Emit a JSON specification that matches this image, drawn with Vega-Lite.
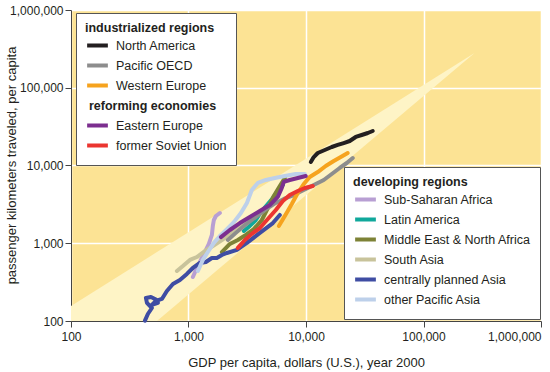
{
  "$schema": "https://vega.github.io/schema/vega-lite/v6.json",
  "width": 470,
  "height": 311,
  "autosize": {"type": "none"},
  "padding": {"left": 71, "top": 10, "right": 9, "bottom": 51},
  "config": {
    "view": {"fill": "#FCE394", "stroke": null},
    "font": "Liberation Sans",
    "axis": {
      "grid": true,
      "gridColor": "#ffffff",
      "gridWidth": 1.5,
      "gridOpacity": 1,
      "domainColor": "#444444",
      "domainWidth": 1,
      "tickColor": "#444444",
      "tickSize": 6,
      "labelFontSize": 12,
      "labelColor": "#231f20",
      "labelFont": "Liberation Sans",
      "titleFont": "Liberation Sans",
      "titleFontSize": 13,
      "titleFontWeight": "normal",
      "titleColor": "#231f20"
    },
    "legend": {
      "titleFont": "Liberation Sans",
      "titleFontSize": 12.5,
      "titleFontWeight": "bold",
      "titleColor": "#231f20",
      "labelFont": "Liberation Sans",
      "labelFontSize": 12.5,
      "labelColor": "#231f20",
      "fillColor": "#ffffff",
      "strokeColor": "#555555",
      "padding": 9,
      "symbolType": "stroke",
      "symbolSize": 430,
      "symbolStrokeWidth": 4,
      "labelOffset": 6,
      "rowPadding": 0,
      "clipHeight": 20,
      "titlePadding": 1,
      "orient": "none"
    }
  },
  "datasets": {
    "cone": [
      {"gdp": 100, "pkt": 156, "pkt2": 100},
      {"gdp": 539, "pkt": 770, "pkt2": 100},
      {"gdp": 272000, "pkt": 280000, "pkt2": 280000}
    ],
    "ind": [
      {"region": "North America", "i": 1, "gdp": 10990, "pkt": 11090},
      {"region": "North America", "i": 2, "gdp": 11640, "pkt": 12850},
      {"region": "North America", "i": 3, "gdp": 12590, "pkt": 14490},
      {"region": "North America", "i": 4, "gdp": 14450, "pkt": 15820},
      {"region": "North America", "i": 5, "gdp": 16560, "pkt": 17300},
      {"region": "North America", "i": 6, "gdp": 18620, "pkt": 18370},
      {"region": "North America", "i": 7, "gdp": 20940, "pkt": 19450},
      {"region": "North America", "i": 8, "gdp": 23550, "pkt": 20650},
      {"region": "North America", "i": 9, "gdp": 26490, "pkt": 23280},
      {"region": "North America", "i": 10, "gdp": 29790, "pkt": 24660},
      {"region": "North America", "i": 11, "gdp": 33570, "pkt": 26180},
      {"region": "North America", "i": 12, "gdp": 36980, "pkt": 27790},
      {"region": "Pacific OECD", "i": 1, "gdp": 2163, "pkt": 1100},
      {"region": "Pacific OECD", "i": 2, "gdp": 2529, "pkt": 1360},
      {"region": "Pacific OECD", "i": 3, "gdp": 2958, "pkt": 1670},
      {"region": "Pacific OECD", "i": 4, "gdp": 3459, "pkt": 1990},
      {"region": "Pacific OECD", "i": 5, "gdp": 4046, "pkt": 2380},
      {"region": "Pacific OECD", "i": 6, "gdp": 4732, "pkt": 2840},
      {"region": "Pacific OECD", "i": 7, "gdp": 5534, "pkt": 3300},
      {"region": "Pacific OECD", "i": 8, "gdp": 6471, "pkt": 3710},
      {"region": "Pacific OECD", "i": 9, "gdp": 7568, "pkt": 4060},
      {"region": "Pacific OECD", "i": 10, "gdp": 8851, "pkt": 4560},
      {"region": "Pacific OECD", "i": 11, "gdp": 10350, "pkt": 5140},
      {"region": "Pacific OECD", "i": 12, "gdp": 12110, "pkt": 5780},
      {"region": "Pacific OECD", "i": 13, "gdp": 14160, "pkt": 6510},
      {"region": "Pacific OECD", "i": 14, "gdp": 16560, "pkt": 7780},
      {"region": "Pacific OECD", "i": 15, "gdp": 19360, "pkt": 9290},
      {"region": "Pacific OECD", "i": 16, "gdp": 22230, "pkt": 10770},
      {"region": "Pacific OECD", "i": 17, "gdp": 25000, "pkt": 12480},
      {"region": "Western Europe", "i": 1, "gdp": 5875, "pkt": 1670},
      {"region": "Western Europe", "i": 2, "gdp": 6607, "pkt": 2240},
      {"region": "Western Europe", "i": 3, "gdp": 7568, "pkt": 3200},
      {"region": "Western Europe", "i": 4, "gdp": 8511, "pkt": 4430},
      {"region": "Western Europe", "i": 5, "gdp": 9572, "pkt": 5780},
      {"region": "Western Europe", "i": 6, "gdp": 10760, "pkt": 7110},
      {"region": "Western Europe", "i": 7, "gdp": 12590, "pkt": 8240},
      {"region": "Western Europe", "i": 8, "gdp": 14720, "pkt": 9860},
      {"region": "Western Europe", "i": 9, "gdp": 17220, "pkt": 11430},
      {"region": "Western Europe", "i": 10, "gdp": 19770, "pkt": 12850},
      {"region": "Western Europe", "i": 11, "gdp": 22650, "pkt": 14490},
      {"region": "Eastern Europe", "i": 1, "gdp": 1888, "pkt": 1200},
      {"region": "Eastern Europe", "i": 2, "gdp": 2249, "pkt": 1480},
      {"region": "Eastern Europe", "i": 3, "gdp": 2735, "pkt": 1820},
      {"region": "Eastern Europe", "i": 4, "gdp": 3327, "pkt": 2180},
      {"region": "Eastern Europe", "i": 5, "gdp": 4046, "pkt": 2600},
      {"region": "Eastern Europe", "i": 6, "gdp": 4920, "pkt": 3100},
      {"region": "Eastern Europe", "i": 7, "gdp": 5754, "pkt": 3940},
      {"region": "Eastern Europe", "i": 8, "gdp": 6223, "pkt": 5140},
      {"region": "Eastern Europe", "i": 9, "gdp": 6471, "pkt": 6140},
      {"region": "Eastern Europe", "i": 10, "gdp": 7278, "pkt": 6510},
      {"region": "Eastern Europe", "i": 11, "gdp": 8511, "pkt": 6900},
      {"region": "Eastern Europe", "i": 12, "gdp": 9954, "pkt": 7330},
      {"region": "former Soviet Union", "i": 1, "gdp": 2630, "pkt": 870},
      {"region": "former Soviet Union", "i": 2, "gdp": 3020, "pkt": 1100},
      {"region": "former Soviet Union", "i": 3, "gdp": 3459, "pkt": 1320},
      {"region": "former Soviet Union", "i": 4, "gdp": 4046, "pkt": 1570},
      {"region": "former Soviet Union", "i": 5, "gdp": 4732, "pkt": 2050},
      {"region": "former Soviet Union", "i": 6, "gdp": 5534, "pkt": 2680},
      {"region": "former Soviet Union", "i": 7, "gdp": 6353, "pkt": 3490},
      {"region": "former Soviet Union", "i": 8, "gdp": 7278, "pkt": 4180},
      {"region": "former Soviet Union", "i": 9, "gdp": 8511, "pkt": 4700},
      {"region": "former Soviet Union", "i": 10, "gdp": 9772, "pkt": 5140},
      {"region": "former Soviet Union", "i": 11, "gdp": 11430, "pkt": 5450}
    ],
    "dev": [
      {"region": "Sub-Saharan Africa", "i": 1, "gdp": 1089, "pkt": 368},
      {"region": "Sub-Saharan Africa", "i": 2, "gdp": 1178, "pkt": 481},
      {"region": "Sub-Saharan Africa", "i": 3, "gdp": 1274, "pkt": 610},
      {"region": "Sub-Saharan Africa", "i": 4, "gdp": 1378, "pkt": 771},
      {"region": "Sub-Saharan Africa", "i": 5, "gdp": 1490, "pkt": 980},
      {"region": "Sub-Saharan Africa", "i": 6, "gdp": 1581, "pkt": 1280},
      {"region": "Sub-Saharan Africa", "i": 7, "gdp": 1611, "pkt": 1670},
      {"region": "Sub-Saharan Africa", "i": 8, "gdp": 1644, "pkt": 1990},
      {"region": "Sub-Saharan Africa", "i": 9, "gdp": 1710, "pkt": 2240},
      {"region": "Sub-Saharan Africa", "i": 10, "gdp": 1849, "pkt": 2450},
      {"region": "Latin America", "i": 1, "gdp": 2958, "pkt": 1440},
      {"region": "Latin America", "i": 2, "gdp": 3327, "pkt": 1670},
      {"region": "Latin America", "i": 3, "gdp": 3741, "pkt": 1990},
      {"region": "Latin America", "i": 4, "gdp": 4207, "pkt": 2600},
      {"region": "Latin America", "i": 5, "gdp": 4732, "pkt": 3200},
      {"region": "Latin America", "i": 6, "gdp": 5224, "pkt": 3820},
      {"region": "Latin America", "i": 7, "gdp": 5754, "pkt": 4700},
      {"region": "Latin America", "i": 8, "gdp": 6353, "pkt": 5610},
      {"region": "Middle East & North Africa", "i": 1, "gdp": 1923, "pkt": 771},
      {"region": "Middle East & North Africa", "i": 2, "gdp": 2249, "pkt": 980},
      {"region": "Middle East & North Africa", "i": 3, "gdp": 2630, "pkt": 1100},
      {"region": "Middle East & North Africa", "i": 4, "gdp": 3076, "pkt": 1280},
      {"region": "Middle East & North Africa", "i": 5, "gdp": 3597, "pkt": 1520},
      {"region": "Middle East & North Africa", "i": 6, "gdp": 4207, "pkt": 1990},
      {"region": "Middle East & North Africa", "i": 7, "gdp": 4732, "pkt": 2840},
      {"region": "Middle East & North Africa", "i": 8, "gdp": 5321, "pkt": 4060},
      {"region": "Middle East & North Africa", "i": 9, "gdp": 5984, "pkt": 5450},
      {"region": "Middle East & North Africa", "i": 10, "gdp": 6607, "pkt": 6900},
      {"region": "South Asia", "i": 1, "gdp": 797, "pkt": 440},
      {"region": "South Asia", "i": 2, "gdp": 896, "pkt": 509},
      {"region": "South Asia", "i": 3, "gdp": 1028, "pkt": 610},
      {"region": "South Asia", "i": 4, "gdp": 1178, "pkt": 665},
      {"region": "South Asia", "i": 5, "gdp": 1378, "pkt": 794},
      {"region": "South Asia", "i": 6, "gdp": 1611, "pkt": 920},
      {"region": "South Asia", "i": 7, "gdp": 1923, "pkt": 1100},
      {"region": "South Asia", "i": 8, "gdp": 2339, "pkt": 1360},
      {"region": "South Asia", "i": 9, "gdp": 2844, "pkt": 1720},
      {"region": "South Asia", "i": 10, "gdp": 3459, "pkt": 2110},
      {"region": "South Asia", "i": 11, "gdp": 4207, "pkt": 2520},
      {"region": "South Asia", "i": 12, "gdp": 4920, "pkt": 3100},
      {"region": "centrally planned Asia", "i": 1, "gdp": 426, "pkt": 101},
      {"region": "centrally planned Asia", "i": 2, "gdp": 451, "pkt": 123},
      {"region": "centrally planned Asia", "i": 3, "gdp": 488, "pkt": 147},
      {"region": "centrally planned Asia", "i": 4, "gdp": 443, "pkt": 171},
      {"region": "centrally planned Asia", "i": 5, "gdp": 434, "pkt": 198},
      {"region": "centrally planned Asia", "i": 6, "gdp": 479, "pkt": 204},
      {"region": "centrally planned Asia", "i": 7, "gdp": 539, "pkt": 186},
      {"region": "centrally planned Asia", "i": 8, "gdp": 549, "pkt": 171},
      {"region": "centrally planned Asia", "i": 9, "gdp": 488, "pkt": 161},
      {"region": "centrally planned Asia", "i": 10, "gdp": 528, "pkt": 181},
      {"region": "centrally planned Asia", "i": 11, "gdp": 594, "pkt": 192},
      {"region": "centrally planned Asia", "i": 12, "gdp": 655, "pkt": 243},
      {"region": "centrally planned Asia", "i": 13, "gdp": 737, "pkt": 299},
      {"region": "centrally planned Asia", "i": 14, "gdp": 845, "pkt": 337},
      {"region": "centrally planned Asia", "i": 15, "gdp": 969, "pkt": 403},
      {"region": "centrally planned Asia", "i": 16, "gdp": 1089, "pkt": 481},
      {"region": "centrally planned Asia", "i": 17, "gdp": 1250, "pkt": 557},
      {"region": "centrally planned Asia", "i": 18, "gdp": 1406, "pkt": 574},
      {"region": "centrally planned Asia", "i": 19, "gdp": 1581, "pkt": 646},
      {"region": "centrally planned Asia", "i": 20, "gdp": 1742, "pkt": 646},
      {"region": "centrally planned Asia", "i": 21, "gdp": 1923, "pkt": 706},
      {"region": "centrally planned Asia", "i": 22, "gdp": 2123, "pkt": 750},
      {"region": "centrally planned Asia", "i": 23, "gdp": 2582, "pkt": 820},
      {"region": "centrally planned Asia", "i": 24, "gdp": 3141, "pkt": 1010},
      {"region": "centrally planned Asia", "i": 25, "gdp": 4046, "pkt": 1360},
      {"region": "centrally planned Asia", "i": 26, "gdp": 5224, "pkt": 1820},
      {"region": "centrally planned Asia", "i": 27, "gdp": 5984, "pkt": 2310},
      {"region": "other Pacific Asia", "i": 1, "gdp": 1202, "pkt": 440},
      {"region": "other Pacific Asia", "i": 2, "gdp": 1325, "pkt": 610},
      {"region": "other Pacific Asia", "i": 3, "gdp": 1462, "pkt": 771},
      {"region": "other Pacific Asia", "i": 4, "gdp": 1644, "pkt": 1010},
      {"region": "other Pacific Asia", "i": 5, "gdp": 1849, "pkt": 1240},
      {"region": "other Pacific Asia", "i": 6, "gdp": 2123, "pkt": 1520},
      {"region": "other Pacific Asia", "i": 7, "gdp": 2432, "pkt": 1870},
      {"region": "other Pacific Asia", "i": 8, "gdp": 2793, "pkt": 2450},
      {"region": "other Pacific Asia", "i": 9, "gdp": 3141, "pkt": 3300},
      {"region": "other Pacific Asia", "i": 10, "gdp": 3459, "pkt": 4840},
      {"region": "other Pacific Asia", "i": 11, "gdp": 3890, "pkt": 5960},
      {"region": "other Pacific Asia", "i": 12, "gdp": 4550, "pkt": 6510},
      {"region": "other Pacific Asia", "i": 13, "gdp": 5433, "pkt": 6900},
      {"region": "other Pacific Asia", "i": 14, "gdp": 6607, "pkt": 7330},
      {"region": "other Pacific Asia", "i": 15, "gdp": 8185, "pkt": 7780},
      {"region": "other Pacific Asia", "i": 16, "gdp": 9772, "pkt": 7780}
    ]
  },
  "encoding": {
    "x": {
      "field": "gdp",
      "type": "quantitative",
      "scale": {"type": "log", "domain": [100, 1000000], "nice": false},
      "axis": {
        "values": [100, 1000, 10000, 100000, 1000000],
        "format": ",.0f",
        "title": "GDP per capita, dollars (U.S.), year 2000",
        "labelPadding": 4,
        "labelAlign": {"condition": {"test": "datum.value >= 1000000", "value": "right"}, "value": "center"},
        "titleY": 35,
        "titleBaseline": "top"
      }
    },
    "y": {
      "field": "pkt",
      "type": "quantitative",
      "scale": {"type": "log", "domain": [100, 1000000], "nice": false},
      "axis": {
        "values": [100, 1000, 10000, 100000, 1000000],
        "format": ",.0f",
        "title": "passenger kilometers traveled, per capita",
        "labelPadding": 2,
        "titleX": -60,
        "titleY": 155,
        "titleAngle": -90,
        "titleAlign": "center",
        "titleBaseline": "middle"
      }
    }
  },
  "layer": [
    {
      "data": {"name": "cone"},
      "mark": {"type": "area", "color": "#FEF4C6", "opacity": 1},
      "encoding": {"y2": {"field": "pkt2"}}
    },
    {
      "data": {"name": "dev"},
      "mark": {"type": "line", "strokeWidth": 4, "strokeCap": "round", "strokeJoin": "round"},
      "encoding": {
        "order": {"field": "i", "type": "quantitative"},
        "color": {
          "field": "region",
          "type": "nominal",
          "scale": {
            "domain": ["Sub-Saharan Africa", "Latin America", "Middle East & North Africa", "South Asia", "centrally planned Asia", "other Pacific Asia"],
            "range": ["#B89FD3", "#10A89B", "#7D8236", "#C8C39B", "#3F4DA3", "#BDD0EA"]
          },
          "legend": {
            "title": "developing regions",
            "legendX": 273,
            "legendY": 157
          }
        }
      }
    },
    {
      "data": {"name": "ind"},
      "mark": {"type": "line", "strokeWidth": 4, "strokeCap": "round", "strokeJoin": "round"},
      "encoding": {
        "order": {"field": "i", "type": "quantitative"},
        "color": {
          "field": "region",
          "type": "nominal",
          "scale": {
            "domain": ["North America", "Pacific OECD", "Western Europe", "reforming economies", "Eastern Europe", "former Soviet Union"],
            "range": ["#231F20", "#8D8D8D", "#F6A31E", "rgba(0,0,0,0)", "#7C2E8F", "#EB3530"]
          },
          "legend": {
            "title": "industrialized regions",
            "legendX": 5,
            "legendY": 3,
            "encode": {
              "labels": {
                "update": {
                  "fontWeight": {"signal": "datum.value === 'reforming economies' ? 'bold' : 'normal'"},
                  "dx": {"signal": "datum.value === 'reforming economies' ? -27 : 0"}
                }
              }
            }
          }
        }
      }
    }
  ],
  "resolve": {"scale": {"color": "independent"}}
}
